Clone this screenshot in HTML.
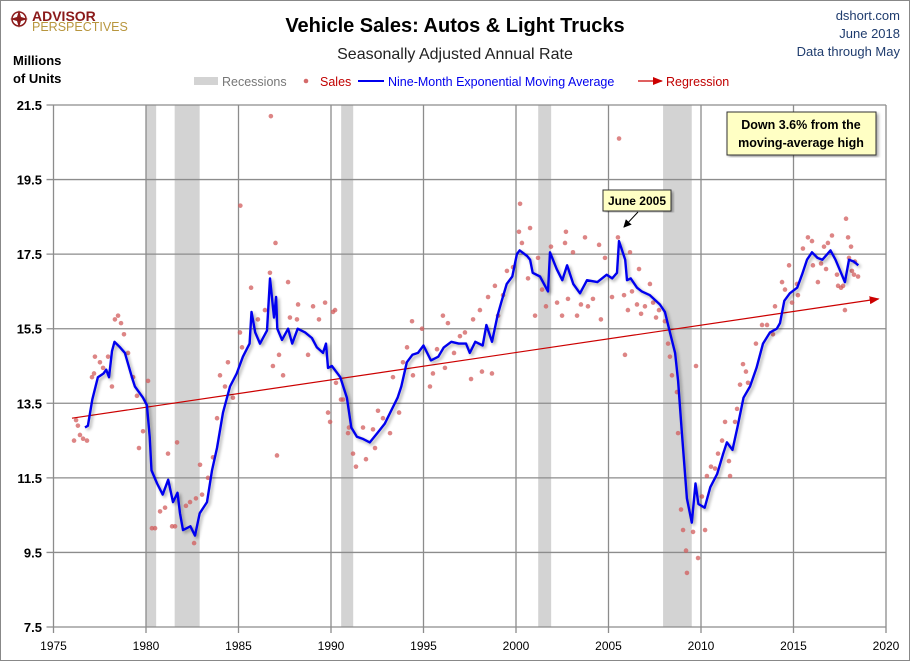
<!DOCTYPE html>
<html><head><meta charset="utf-8">
<style>
html,body{margin:0;padding:0;background:#fff;}
body{width:910px;height:661px;overflow:hidden;font-family:"Liberation Sans",Arial,sans-serif;}
svg text{font-family:"Liberation Sans",Arial,sans-serif;}
</style></head>
<body>
<svg id="chart" width="910" height="661" viewBox="0 0 910 661" xmlns="http://www.w3.org/2000/svg">
<defs>
<filter id="sh" x="-5%" y="-5%" width="110%" height="110%"><feGaussianBlur in="SourceAlpha" stdDeviation="1.5"/><feOffset dx="2" dy="2"/><feComponentTransfer><feFuncA type="linear" slope="0.35"/></feComponentTransfer><feMerge><feMergeNode/><feMergeNode in="SourceGraphic"/></feMerge></filter>
<marker id="arr" markerWidth="10" markerHeight="8" refX="9" refY="4" orient="auto" markerUnits="userSpaceOnUse"><path d="M0,0 L10,4 L0,8 z" fill="#cc0000"/></marker>
<marker id="arrk" markerWidth="8" markerHeight="8" refX="7" refY="4" orient="auto" markerUnits="userSpaceOnUse"><path d="M0,0 L8,4 L0,8 z" fill="#000"/></marker>
</defs>
<rect x="0.5" y="0.5" width="909" height="660" fill="#fff" stroke="#888"/>
<g>
<circle cx="19" cy="19" r="7" fill="none" stroke="#8b1a1a" stroke-width="1.5"/>
<path d="M19,10 L21,17 L28,19 L21,21 L19,28 L17,21 L10,19 L17,17 z" fill="#8b1a1a"/>
<text x="32" y="21" font-size="14" font-weight="bold" fill="#8b1a1a">ADVISOR</text>
<text x="32" y="31" font-size="12.5" fill="#b8963e">PERSPECTIVES</text>
</g>
<text x="455" y="32" text-anchor="middle" font-size="20" font-weight="bold" fill="#000">Vehicle Sales: Autos &amp; Light Trucks</text>
<text x="455" y="59" text-anchor="middle" font-size="16" fill="#222">Seasonally Adjusted Annual Rate</text>
<g fill="#1f3c6e" font-size="13" text-anchor="end">
<text x="900" y="20">dshort.com</text><text x="900" y="38">June 2018</text><text x="900" y="56">Data through May</text></g>
<text x="13" y="65" font-size="13" font-weight="bold">Millions</text>
<text x="13" y="83" font-size="13" font-weight="bold">of Units</text>
<g font-size="12.5">
<g><rect x="194" y="77" width="24" height="8" fill="#d3d3d3"/><text x="222" y="86" fill="#777">Recessions</text></g>
<g><circle cx="306" cy="81" r="2.3" fill="#d46a6a"/><text x="320" y="86" fill="#c00000">Sales</text></g>
<g><line x1="358" y1="81" x2="384" y2="81" stroke="#0000ee" stroke-width="2"/><text x="388" y="86" fill="#0000ee">Nine-Month Exponential Moving Average</text></g>
<g><line x1="638" y1="81" x2="662" y2="81" stroke="#cc0000" stroke-width="1.2" marker-end="url(#arr)"/><text x="666" y="86" fill="#c00000">Regression</text></g>
</g>
<g id="plot"></g>
<g>
<rect x="727" y="112" width="149" height="43" fill="#ffffc4" stroke="#333" filter="url(#sh)"/>
<text x="801" y="129" text-anchor="middle" font-size="12.5" font-weight="bold">Down 3.6% from the</text>
<text x="801" y="147" text-anchor="middle" font-size="12.5" font-weight="bold">moving-average high</text>
</g>
<g>
<rect x="603" y="190" width="68" height="21" fill="#ffffc4" stroke="#333" filter="url(#sh)"/>
<text x="637" y="205" text-anchor="middle" font-size="12" font-weight="bold">June 2005</text>
<line x1="638" y1="212" x2="624" y2="227" stroke="#000" stroke-width="1" marker-end="url(#arrk)"/>
</g>
</svg>
<script>
const yTicks=[7.5,9.5,11.5,13.5,15.5,17.5,19.5,21.5];
const xTicks=[1975,1980,1985,1990,1995,2000,2005,2010,2015,2020];
const recStart=[1980.0,1981.55,1990.55,2001.2,2007.95];
const recEnd=[1980.55,1982.9,1991.2,2001.9,2009.5];
const maYears=[1976.7,1976.86,1977.1,1977.4,1977.7,1977.85,1978.0,1978.16,1978.3,1978.6,1978.86,1979.24,1979.4,1979.84,1980.05,1980.2,1980.3,1980.6,1980.9,1981.2,1981.46,1981.7,1981.84,1982.0,1982.4,1982.65,1982.9,1983.3,1983.57,1983.84,1984.16,1984.54,1984.9,1985.24,1985.6,1985.7,1985.9,1986.16,1986.54,1986.7,1986.92,1987.03,1987.1,1987.35,1987.68,1987.9,1988.2,1988.6,1988.97,1989.24,1989.57,1989.73,1989.84,1990.05,1990.5,1990.86,1991.1,1991.4,1991.7,1992.1,1992.5,1992.9,1993.2,1993.6,1993.8,1994.1,1994.4,1994.7,1995.0,1995.4,1995.8,1996.1,1996.5,1996.9,1997.3,1997.5,1997.8,1998.2,1998.4,1998.7,1999.0,1999.2,1999.5,1999.8,2000.05,2000.2,2000.6,2000.76,2000.9,2001.3,2001.73,2001.84,2002.2,2002.5,2002.76,2003.1,2003.46,2003.84,2004.4,2004.9,2005.2,2005.46,2005.57,2005.9,2006.0,2006.2,2006.54,2006.8,2007.24,2007.78,2008.05,2008.3,2008.6,2008.76,2008.97,2009.24,2009.5,2009.7,2009.86,2010.2,2010.5,2010.87,2011.2,2011.4,2011.7,2011.97,2012.3,2012.65,2013.0,2013.35,2013.73,2014.1,2014.27,2014.5,2014.8,2015.2,2015.46,2015.73,2016.0,2016.3,2016.56,2017.0,2017.27,2017.57,2017.78,2018.0,2018.27,2018.5];
const maValues=[12.85,12.9,13.6,14.2,14.3,14.4,14.2,14.9,15.15,15.0,14.85,14.2,13.95,13.65,13.45,12.6,11.7,11.35,11.05,11.45,10.85,11.1,10.55,10.1,10.2,9.95,10.55,10.85,11.7,12.3,13.25,13.95,14.3,14.75,15.1,15.95,15.4,15.1,15.45,16.85,15.8,16.35,15.5,15.2,15.5,15.1,15.5,15.4,15.25,15.0,14.85,15.1,14.45,14.5,14.2,13.65,12.85,12.6,12.55,12.45,12.7,12.95,13.25,13.65,13.95,14.6,14.8,14.85,15.05,14.65,14.75,15.0,15.15,15.1,15.1,14.85,15.15,15.05,15.6,15.15,15.85,16.2,16.7,16.9,17.5,17.6,17.45,17.35,17.0,16.9,16.5,17.55,17.1,16.8,17.2,16.7,16.45,16.8,16.75,16.95,16.85,17.0,17.85,17.35,16.8,16.85,16.6,16.5,16.4,16.15,15.95,15.45,14.85,14.1,12.7,10.95,10.3,11.35,10.8,10.7,11.25,11.6,12.15,12.45,12.25,12.85,13.65,13.95,14.45,15.1,15.4,15.5,15.65,16.25,16.45,16.6,16.95,17.35,17.55,17.4,17.35,17.6,17.35,17.0,16.75,17.35,17.3,17.2];
const salesYears=[1976.11,1976.22,1976.32,1976.43,1976.6,1976.81,1977.08,1977.19,1977.24,1977.51,1977.68,1977.95,1978.16,1978.32,1978.49,1978.65,1978.81,1979.03,1979.3,1979.51,1979.84,1980.11,1979.62,1980.32,1980.49,1980.76,1981.03,1981.19,1981.68,1981.41,1981.57,1982.16,1982.38,1982.7,1983.03,1982.6,1982.92,1983.35,1983.62,1983.84,1984.0,1984.27,1984.43,1984.7,1985.08,1985.19,1985.68,1986.05,1986.43,1986.7,1986.86,1987.19,1987.08,1987.41,1987.68,1987.78,1988.16,1988.22,1988.76,1989.03,1989.35,1989.68,1989.84,1989.95,1990.11,1990.27,1990.65,1990.92,1985.1,1986.75,1987.0,1990.22,1990.54,1990.97,1991.19,1991.35,1991.73,1991.89,1992.27,1992.38,1992.54,1992.81,1993.19,1993.35,1993.68,1993.89,1994.11,1994.38,1994.43,1994.92,1995.35,1995.51,1995.73,1996.05,1996.32,1996.16,1996.65,1996.97,1997.24,1997.57,1997.68,1998.05,1998.16,1998.7,1998.49,1998.86,1999.03,1999.3,1999.51,1999.84,2000.16,2000.32,2000.22,2000.76,2000.65,2001.03,2001.19,2001.41,2001.62,2001.89,2002.22,2002.49,2002.7,2002.65,2002.81,2003.08,2003.3,2003.51,2003.73,2003.89,2004.16,2004.49,2004.59,2004.81,2005.19,2005.51,2005.84,2005.89,2006.05,2005.57,2006.16,2006.65,2006.27,2006.54,2006.76,2006.97,2007.24,2007.41,2007.57,2007.73,2008.05,2008.22,2008.32,2008.43,2008.7,2008.76,2008.92,2009.03,2009.19,2009.24,2009.57,2009.73,2009.84,2010.05,2010.22,2010.32,2010.54,2010.76,2010.92,2011.14,2011.3,2011.51,2011.57,2011.84,2011.95,2012.11,2012.27,2012.43,2012.54,2012.97,2013.3,2013.57,2013.89,2014.0,2014.38,2014.54,2014.76,2014.92,2015.19,2015.24,2015.51,2015.78,2016.0,2016.05,2016.32,2016.49,2016.65,2016.76,2016.86,2017.08,2017.35,2017.41,2017.57,2017.68,2017.78,2017.84,2017.95,2018.11,2018.0,2018.16,2018.32,2018.27,2018.49];
const salesValues=[12.5,13.05,12.9,12.65,12.55,12.5,14.2,14.3,14.75,14.6,14.45,14.75,13.95,15.75,15.85,15.65,15.35,14.85,14.2,13.7,12.75,14.1,12.3,10.15,10.15,10.6,10.7,12.15,12.45,10.2,10.2,10.75,10.85,10.95,11.05,9.75,11.85,11.5,12.05,13.1,14.25,13.95,14.6,13.65,15.4,15.0,16.6,15.75,16.0,17.0,14.5,14.8,12.1,14.25,16.75,15.8,15.75,16.15,14.8,16.1,15.75,16.2,13.25,13.0,15.95,14.05,13.6,12.7,18.8,21.2,17.8,16.0,13.6,12.85,12.15,11.8,12.85,12.0,12.8,12.3,13.3,13.1,12.7,14.2,13.25,14.6,15.0,15.7,14.25,15.5,13.95,14.3,14.95,15.85,15.65,14.45,14.85,15.3,15.4,14.15,15.75,16.0,14.35,14.3,16.35,16.65,15.85,16.4,17.05,17.15,18.1,17.8,18.85,18.2,16.85,15.85,17.4,16.55,16.1,17.7,16.2,15.85,18.1,17.8,16.3,17.55,15.85,16.15,17.95,16.1,16.3,17.75,15.75,17.4,16.35,17.95,16.4,14.8,16.0,20.6,17.55,17.1,16.5,16.15,15.9,16.1,16.7,16.2,15.8,16.0,15.7,15.1,14.75,14.25,13.8,12.7,10.65,10.1,9.55,8.95,10.05,14.5,9.35,11.0,10.1,11.55,11.8,11.75,12.15,12.5,13.0,11.95,11.55,13.0,13.35,14.0,14.55,14.35,14.05,15.1,15.6,15.6,15.35,16.1,16.75,16.55,17.2,16.2,16.7,16.4,17.65,17.95,17.85,17.2,16.75,17.25,17.7,17.1,17.8,18.0,16.95,16.65,16.6,16.65,16.0,18.45,17.95,17.7,17.4,17.05,17.3,16.95,16.9];
const regYears=[1976.0,2019.6];
const regValues=[13.1,16.3];

const X0=53.5,X1=886,Y0=105,Y1=627;
const xs=y=>X0+(y-1975)/(2020-1975)*(X1-X0);
const ys=v=>Y1-(v-7.5)/(21.5-7.5)*(Y1-Y0);
const NS='http://www.w3.org/2000/svg';
const plot=document.getElementById('plot');
function mk(tag,attrs,parent){const e=document.createElementNS(NS,tag);for(const k in attrs)e.setAttribute(k,attrs[k]);(parent||plot).appendChild(e);return e;}

const recG=mk('g',{});


recStart.forEach((s,i)=>{const r=mk('rect',{x:xs(s),y:Y0,width:xs(recEnd[i])-xs(s),height:Y1-Y0,fill:'#d3d3d3'},recG);

});

const grid=mk('g',{stroke:'#8c8c8c','stroke-width':1.3});


yTicks.forEach(t=>{mk('line',{x1:X0-7,x2:X1,y1:ys(t),y2:ys(t)},grid);
const tx=mk('text',{x:42,y:ys(t)+5,'text-anchor':'end','font-size':13,'font-weight':'bold',fill:'#000',stroke:'none'});
tx.textContent=t.toFixed(1);

});
xTicks.forEach(t=>{mk('line',{x1:xs(t),x2:xs(t),y1:Y0,y2:Y1+6},grid);
const tx=mk('text',{x:xs(t),y:650,'text-anchor':'middle','font-size':12,fill:'#000',stroke:'none'});
tx.textContent=t;

});

const dots=mk('g',{fill:'#d25c5c','fill-opacity':0.75});


salesYears.forEach((y,i)=>{const c=mk('circle',{cx:xs(y),cy:ys(salesValues[i]),r:2.3},dots);

});

const reg=mk('line',{x1:xs(regYears[0]),y1:ys(regValues[0]),x2:xs(regYears[1]),y2:ys(regValues[1]),stroke:'#cc0000','stroke-width':1.2,'marker-end':'url(#arr)'});



const d=maYears.map((y,i)=>(i?'L':'M')+xs(y).toFixed(1)+','+ys(maValues[i]).toFixed(1)).join(' ');
const ma=mk('path',{d:d,fill:'none',stroke:'#0000ee','stroke-width':2.4,'stroke-linejoin':'round',filter:'url(#sh)'});


</script>
</body></html>
